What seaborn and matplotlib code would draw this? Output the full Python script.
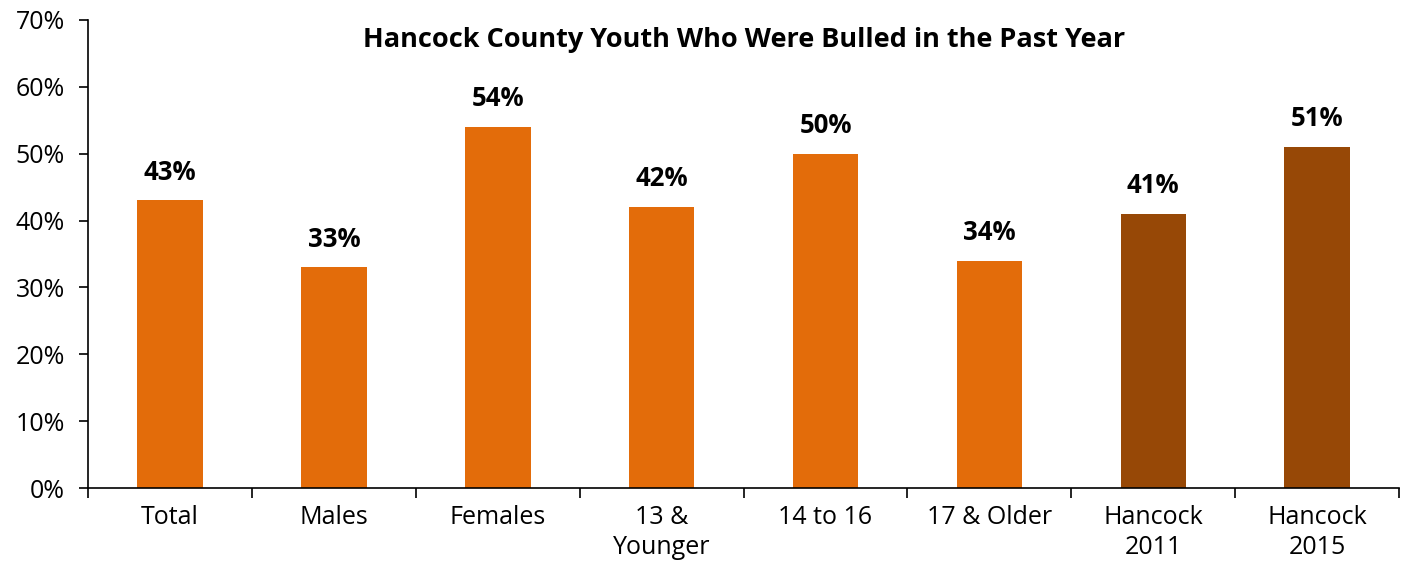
import matplotlib
matplotlib.use("Agg")
import matplotlib.pyplot as plt
import seaborn as sns
import pandas as pd
import numpy as np
from matplotlib.ticker import FixedLocator, PercentFormatter

categories = ['Total', 'Males', 'Females', '13 &\nYounger', '14 to 16',
              '17 & Older', 'Hancock\n2011', 'Hancock\n2015']
values = [43, 33, 54, 42, 50, 34, 41, 51]
groups = ['current'] * 6 + ['trend'] * 2
palette = {'current': '#E36C0A', 'trend': '#974806'}

sns.set_theme(style="white")
plt.rcParams['font.family'] = ['Open Sans', 'DejaVu Sans']
plt.rcParams['text.color'] = 'black'

df = pd.DataFrame({'Category': categories, 'Percent': values, 'Group': groups})

fig = plt.figure(figsize=(14.06, 5.67), dpi=100)
ax = fig.add_axes([0.0626, 0.139, 0.9325, 0.826])
sns.barplot(data=df, x='Category', y='Percent', hue='Group', palette=palette,
            dodge=False, width=0.4, legend=False, saturation=1, linewidth=0,
            ax=ax)

for i, v in enumerate(values):
    ax.text(i, v + 2.2, f'{v}%', ha='center', va='bottom', fontsize=18.5,
            fontweight='bold', color='black')

ax.set_ylim(0, 70)
ax.set_xlim(-0.5, len(categories) - 0.5)
ax.set_yticks(range(0, 71, 10))
ax.yaxis.set_major_formatter(PercentFormatter(decimals=0))
ax.tick_params(axis='y', labelsize=18, length=6.5, width=1.2, direction='out',
               left=True, color='black', labelcolor='black', pad=10)
ax.tick_params(axis='x', which='major', labelsize=18, length=0, pad=12,
               labelcolor='black')
ax.xaxis.set_minor_locator(FixedLocator(np.arange(-0.5, len(categories), 1)))
ax.tick_params(axis='x', which='minor', bottom=True, length=7, width=1.2,
               direction='out', color='black')
for lbl in ax.get_xticklabels():
    lbl.set_linespacing(1.25)
ax.set_xlabel('')
ax.set_ylabel('')
for side in ['top', 'right']:
    ax.spines[side].set_visible(False)
for side in ['left', 'bottom']:
    ax.spines[side].set_color('black')
    ax.spines[side].set_linewidth(1.2)

ax.text(0.5, 0.957, 'Hancock County Youth Who Were Bulled in the Past Year',
        transform=ax.transAxes, ha='center', va='center',
        fontsize=19.5, fontweight='bold', color='black')

fig.savefig('out.png', dpi=100)
